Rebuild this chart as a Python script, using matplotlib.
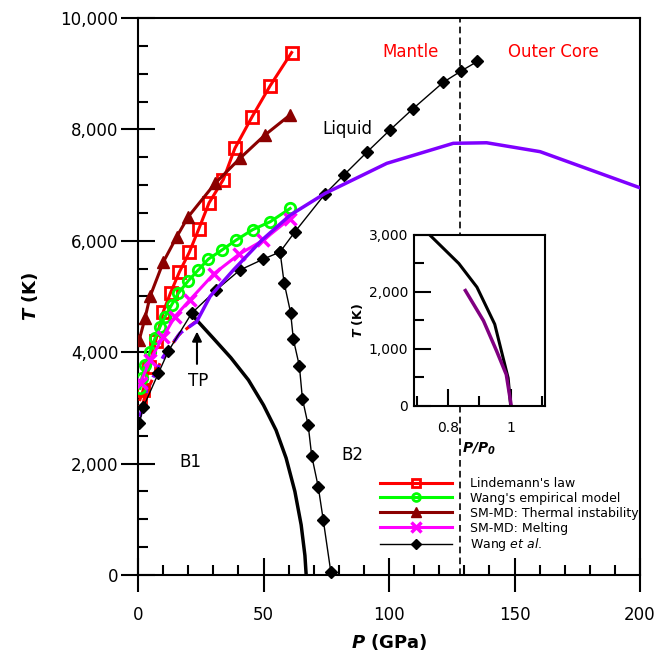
import matplotlib
matplotlib.use("Agg")
import matplotlib.pyplot as plt
from matplotlib.ticker import MultipleLocator, FuncFormatter
import numpy as np

# Lindemann's law
lind_P = [0.8, 2.1, 4.5, 7.0, 10.1, 13.0, 16.5, 20.4, 24.2, 28.3, 34.0, 38.6, 45.5, 52.6, 61.2]
lind_T = [3150, 3320, 3740, 4200, 4730, 5070, 5440, 5790, 6210, 6680, 7100, 7660, 8230, 8780, 9380]

# Wang's empirical model
emp_P = [0.8, 1.5, 2.8, 4.8, 6.8, 8.8, 10.8, 13.4, 16.1, 20.0, 24.0, 28.0, 33.3, 39.0, 45.7, 52.6, 60.6]
emp_T = [3350, 3530, 3770, 4010, 4250, 4460, 4640, 4850, 5060, 5280, 5475, 5670, 5830, 6010, 6200, 6340, 6580]

# SM-MD: thermal instability
ti_P = [0.5, 2.8, 4.8, 10.1, 15.4, 20.0, 30.7, 40.6, 50.6, 60.6]
ti_T = [4220, 4610, 5000, 5620, 6070, 6430, 7030, 7480, 7900, 8260]

# SM-MD: melting
melt_P = [1.0, 4.8, 10.1, 14.7, 20.7, 30.3, 40.3, 49.9, 60.6]
melt_T = [3450, 3860, 4280, 4640, 4940, 5410, 5760, 6010, 6400]

# Wang et al.: B1-liquid and liquid branch, then B1-B2 branch
wang_P = [0.5, 2.1, 8.1, 12.1, 21.4, 31.0, 40.6, 49.9, 56.6, 62.5, 74.5, 82.0, 91.4, 100.4, 109.4, 121.6, 128.8, 135.2]
wang_T = [2720, 3010, 3620, 4020, 4700, 5110, 5475, 5670, 5800, 6160, 6840, 7180, 7600, 7990, 8365, 8845, 9050, 9220]
wang_b2_P = [56.6, 58.2, 60.8, 61.9, 64.3, 65.5, 67.8, 69.2, 71.8, 73.8, 76.8]
wang_b2_T = [5800, 5250, 4710, 4230, 3750, 3165, 2690, 2140, 1585, 990, 60]

# B1-B2 boundary (solid black)
b12_P = [22.7, 30.0, 37.0, 44.0, 50.0, 55.0, 59.0, 62.5, 65.0, 66.5, 67.0]
b12_T = [4610, 4250, 3900, 3500, 3050, 2600, 2100, 1500, 900, 350, 0]

# melting curve (purple), dashed and solid part
purp_d_P = [0.8, 3.5, 10.1, 16.7, 23.4]
purp_d_T = [2840, 3320, 3920, 4340, 4550]
purp_P = [23.4, 28.7, 38.0, 49.3, 60.6, 74.5, 99.1, 125.6, 138.9, 160.2, 200.7]
purp_T = [4550, 5000, 5475, 6010, 6460, 6850, 7390, 7750, 7760, 7600, 6940]

red_d_P = [1.5, 3.0, 9.5, 16.0, 22.7]
red_d_T = [2990, 3250, 3870, 4300, 4540]

# inset
ins_blk_x = [0.741, 0.834, 0.892, 0.949, 0.992, 1.0]
ins_blk_y = [3000, 2500, 2085, 1435, 490, 0]
ins_pur_x = [0.855, 0.913, 0.955, 0.986, 1.002]
ins_pur_y = [2025, 1495, 965, 551, 0]

cmb_P = 128.3

fig = plt.figure(figsize=(6.59, 6.59), dpi=100)
ax = fig.add_axes([0.2094, 0.1275, 0.7618, 0.8452])

ax.axvline(cmb_P, color='k', ls=(0, (4, 2.5)), lw=1.2, zorder=1)

ax.plot(red_d_P, red_d_T, color='red', lw=2.2, ls=(0, (4, 2)), zorder=2)
ax.plot(purp_d_P, purp_d_T, color='#7f00ff', lw=2.5, ls=(0, (4, 2)), zorder=2)
ax.plot(b12_P, b12_T, color='k', lw=2.5, zorder=2)

ax.plot(lind_P, lind_T, color='red', lw=2.2, marker='s', ms=8, mfc='none', mew=2,
        label="Lindemann's law", zorder=3)
ax.plot(emp_P, emp_T, color='#00ff00', lw=2.2, marker='o', ms=7.5, mfc='none', mew=2,
        label="Wang's empirical model", zorder=3)
ax.plot(ti_P, ti_T, color='#8b0000', lw=2.2, marker='^', ms=9,
        label="SM-MD: Thermal instability", zorder=3)
ax.plot(melt_P, melt_T, color='#ff00ff', lw=2.2, marker='x', ms=9, mew=2.5,
        label="SM-MD: Melting", zorder=3)
ax.plot(wang_P, wang_T, color='k', lw=1, marker='D', ms=6.5,
        label=r"Wang $\it{et\ al.}$", zorder=4)
ax.plot(wang_b2_P, wang_b2_T, color='k', lw=1, marker='D', ms=6.5, zorder=4, clip_on=False)
ax.plot(purp_P, purp_T, color='#7f00ff', lw=2.5, zorder=5)

ax.set_xlim(0, 200)
ax.set_ylim(0, 10000)
ax.xaxis.set_major_locator(MultipleLocator(50))
ax.xaxis.set_minor_locator(MultipleLocator(10))
ax.yaxis.set_major_locator(MultipleLocator(2000))
ax.yaxis.set_minor_locator(MultipleLocator(500))
ax.yaxis.set_major_formatter(FuncFormatter(lambda v, p: f"{int(v):,}"))
ax.tick_params(which='major', direction='inout', length=24, width=1.5, labelsize=12, pad=2)
ax.tick_params(axis='x', which='major', pad=10)
ax.tick_params(which='minor', direction='in', length=7, width=1.5)
for s in ax.spines.values():
    s.set_linewidth(1.5)

ax.set_xlabel(r"$\mathbfit{P}$ (GPa)", fontsize=13, fontweight='bold', labelpad=6)
ax.set_ylabel(r"$\mathbfit{T}$ (K)", fontsize=13, fontweight='bold', labelpad=15)

ax.text(108.4, 9390, "Mantle", color='red', fontsize=12, ha='center', va='center')
ax.text(165.3, 9390, "Outer Core", color='red', fontsize=12, ha='center', va='center')
ax.text(83.3, 8006, "Liquid", fontsize=12, ha='center', va='center')
ax.text(23.9, 3480, "TP", fontsize=12, ha='center', va='center')
ax.annotate("", xy=(23.5, 4420), xytext=(23.5, 3740),
            arrowprops=dict(arrowstyle='-|>', color='k', lw=1.5, mutation_scale=14))
ax.text(20.7, 2030, "B1", fontsize=12, ha='center', va='center')
ax.text(85.3, 2150, "B2", fontsize=12, ha='center', va='center')

ax.legend(loc='upper left', bbox_to_anchor=(0.482, 0.176), frameon=False, fontsize=9,
          handlelength=5.8, handletextpad=1.4, labelspacing=0.15, numpoints=1,
          markerscale=0.75, borderaxespad=0, borderpad=0)

# inset
ins = fig.add_axes([0.628, 0.384, 0.199, 0.2594])
ins.plot(ins_blk_x, ins_blk_y, color='k', lw=2.2)
ins.plot(ins_pur_x, ins_pur_y, color='#800080', lw=2.5)
ins.set_xlim(0.69, 1.11)
ins.set_ylim(0, 3000)
ins.xaxis.set_major_locator(MultipleLocator(0.2))
ins.xaxis.set_minor_locator(MultipleLocator(0.1))
ins.yaxis.set_major_locator(MultipleLocator(1000))
ins.yaxis.set_minor_locator(MultipleLocator(500))
ins.xaxis.set_major_formatter(FuncFormatter(lambda v, p: f"{v:g}"))
ins.yaxis.set_major_formatter(FuncFormatter(lambda v, p: f"{int(v):,}"))
ins.tick_params(which='major', direction='in', length=12.5, width=1.5, labelsize=10, pad=4)
ins.tick_params(axis='x', which='major', pad=11)
ins.tick_params(which='minor', direction='in', length=7, width=1.5)
for s in ins.spines.values():
    s.set_linewidth(1.5)
ins.set_xlabel(r"$\mathbfit{P/P_0}$", fontsize=10, labelpad=4)
ins.set_ylabel(r"$\mathbfit{T}$ (K)", fontsize=9, fontweight='bold', labelpad=3)

fig.savefig("out.png", dpi=100)
